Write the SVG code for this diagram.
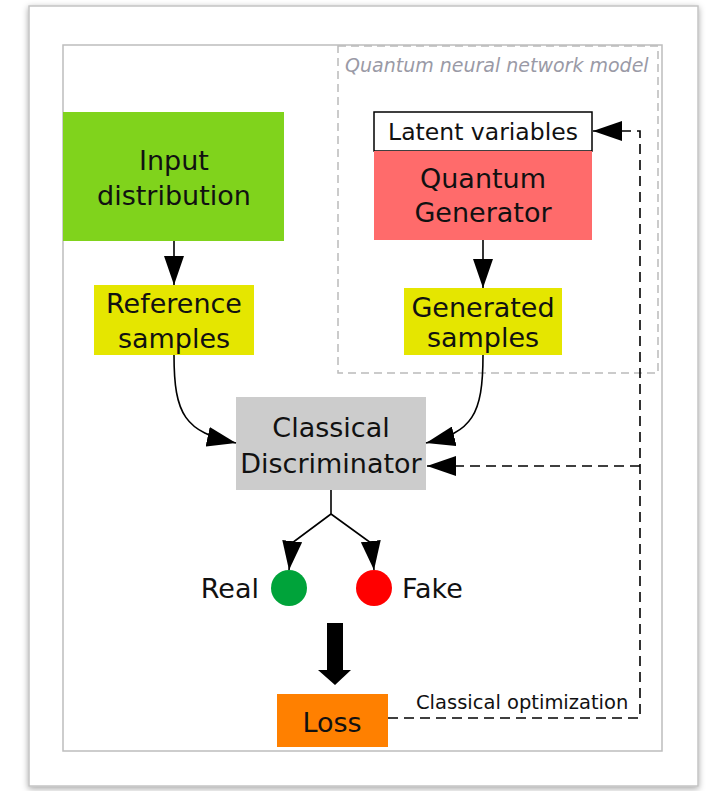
<svg xmlns="http://www.w3.org/2000/svg" width="708" height="791" viewBox="0 0 708 791">
<defs>
<filter id="sh" x="-5%" y="-5%" width="110%" height="110%">
<feDropShadow dx="0" dy="2" stdDeviation="3" flood-color="#000" flood-opacity="0.35"/>
</filter>
<marker id="ah" markerUnits="userSpaceOnUse" markerWidth="30" markerHeight="20" refX="29" refY="10" orient="auto">
<path d="M0,0 L29,10 L0,20 z" fill="#000"/>
</marker>
<style>
.lbl{font-family:"DejaVu Sans",sans-serif;font-size:27px;fill:#111;text-anchor:middle}
.conn{fill:none;stroke:#000;stroke-width:1.6}
.dash{fill:none;stroke:#000;stroke-width:1.6;stroke-dasharray:10,6}
</style>
</defs>
<rect x="29" y="6" width="669" height="780" fill="#fff" stroke="#c4c4c4" stroke-width="1.5" filter="url(#sh)"/>
<rect x="63" y="45" width="599" height="706" fill="none" stroke="#bdbdbd" stroke-width="1.5"/>
<g id="qnn-box">
<rect x="338" y="46" width="320" height="327" fill="none" stroke="#bbb" stroke-width="1.5" stroke-dasharray="8,5"/>
<text x="345" y="72" font-family="DejaVu Sans,sans-serif" font-style="italic" font-size="19" fill="#9a9aa6">Quantum neural network model</text>
</g>
<g id="input">
<rect x="63" y="112" width="221" height="129" fill="#80d31c"/>
<text class="lbl" x="174" y="170">Input</text>
<text class="lbl" x="174" y="205">distribution</text>
</g>
<g id="reference">
<rect x="94" y="285" width="160" height="70" fill="#e5e600"/>
<text class="lbl" x="174" y="313">Reference</text>
<text class="lbl" x="174" y="348">samples</text>
</g>
<g id="latent">
<rect x="374" y="112" width="218" height="39" fill="#fff" stroke="#000" stroke-width="1.5"/>
<text class="lbl" x="483" y="140" font-size="23.5" style="font-size:23.5px">Latent variables</text>
</g>
<g id="generator">
<rect x="374" y="151" width="218" height="89" fill="#ff6b6b"/>
<text class="lbl" x="483" y="188">Quantum</text>
<text class="lbl" x="483" y="222">Generator</text>
</g>
<g id="generated">
<rect x="404" y="288" width="158" height="67" fill="#e5e600"/>
<text class="lbl" x="483" y="317">Generated</text>
<text class="lbl" x="483" y="347">samples</text>
</g>
<g id="discriminator">
<rect x="236" y="397" width="190" height="93" fill="#cccccc"/>
<text class="lbl" x="331" y="437">Classical</text>
<text class="lbl" x="331" y="473">Discriminator</text>
</g>
<g id="real">
<circle cx="289" cy="588" r="18" fill="#00a33a"/>
<text class="lbl" x="259" y="598" style="text-anchor:end">Real</text>
</g>
<g id="fake">
<circle cx="374" cy="588" r="18" fill="#ff0000"/>
<text class="lbl" x="402" y="598" style="text-anchor:start">Fake</text>
</g>
<g id="loss">
<rect x="277" y="694" width="111" height="53" fill="#ff8000"/>
<text class="lbl" x="332" y="732">Loss</text>
</g>
<g id="connectors">
<path class="conn" d="M174,241 V285" marker-end="url(#ah)"/>
<path class="conn" d="M483,240 V288" marker-end="url(#ah)"/>
<path class="conn" d="M174,355 C174,415 185,432 236,443" marker-end="url(#ah)"/>
<path class="conn" d="M483,355 C483,415 472,432 426,443" marker-end="url(#ah)"/>
<path class="conn" d="M331,490 V514"/>
<path class="conn" d="M331,514 L292,543 L289,570" marker-end="url(#ah)"/>
<path class="conn" d="M331,514 L371,543 L374,570" marker-end="url(#ah)"/>
<path class="dash" d="M388,718 H640 V131 H593" marker-end="url(#ah)"/>
<path class="dash" d="M640,466 H427" marker-end="url(#ah)"/>
<polygon points="327,623 343,623 343,670 351,670 335,685 318,670 327,670" fill="#000"/>
<text x="416" y="709" font-family="DejaVu Sans,sans-serif" font-size="19.5" fill="#111">Classical optimization</text>
</g>
</svg>
